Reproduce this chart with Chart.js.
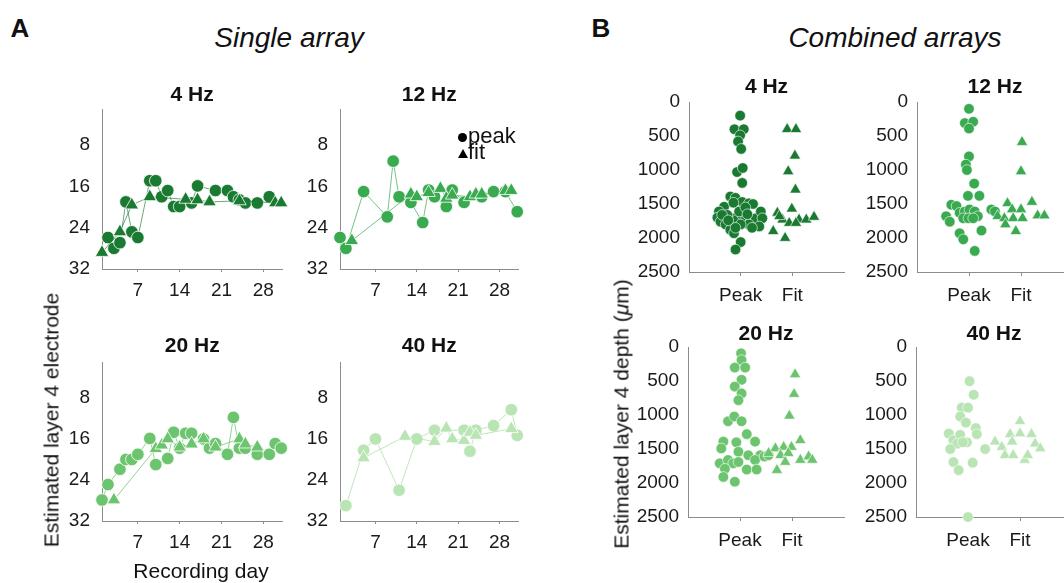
<!DOCTYPE html>
<html>
<head>
<meta charset="utf-8">
<script src="https://cdn.jsdelivr.net/npm/chart.js@4.4.1/dist/chart.umd.min.js"></script>
<style>
  html, body { margin: 0; padding: 0; background: #fff; }
  body { width: 1064px; height: 583px; position: relative; overflow: hidden;
         font-family: 'Liberation Sans', Arial, sans-serif; color: #111; }
  .panel { position: absolute; }
  .txt { position: absolute; white-space: nowrap; line-height: 1; transform: translate(-50%, -50%); }
  .vert { transform: translate(-50%, -50%) rotate(-90deg); }
  #legend { position: absolute; left: 458px; top: 128px; font-size: 22px; line-height: 16px; }
  #legend .dot { display: inline-block; width: 9px; height: 9px; border-radius: 50%; background: #000;
                 vertical-align: middle; margin-right: 1px; }
  #legend .tri { display: inline-block; width: 0; height: 0; border-left: 5px solid transparent;
                 border-right: 5px solid transparent; border-bottom: 9px solid #000;
                 vertical-align: middle; margin-right: 0; }
</style>
</head>
<body>
<div class="txt" style="left:20px;top:28px;font-size:26px;font-weight:bold">A</div>
<div class="txt" style="left:601px;top:28px;font-size:26px;font-weight:bold">B</div>
<div class="txt" style="left:289px;top:38px;font-size:28px;font-style:italic">Single array</div>
<div class="txt" style="left:895px;top:38px;font-size:28px;font-style:italic">Combined arrays</div>
<div class="txt vert" style="left:51px;top:420px;font-size:21px">Estimated layer 4 electrode</div>
<div class="txt" style="left:201px;top:570px;font-size:21px">Recording day</div>
<div class="txt vert" style="left:621px;top:414px;font-size:21px">Estimated layer 4 depth (<i>μ</i>m)</div>
<div id="legend">
  <div><span class="dot"></span>peak</div>
  <div><span class="tri"></span>fit</div>
</div>

<script>
// ---------- labels & ticks ----------
const FREQS = ['4 Hz', '12 Hz', '20 Hz', '40 Hz'];
const METHODS = ['Peak', 'Fit'];
const DAY_TICKS = [7, 14, 21, 28];
const ELECTRODE_TICKS = [8, 16, 24, 32];
const DEPTH_TICKS = [0, 500, 1000, 1500, 2000, 2500];

// ---------- single array: layer 4 electrode by recording day ----------
const peakDays4 = [2, 3, 4, 5, 6, 7, 9, 10, 11, 12, 13, 14, 16, 17, 20, 22, 23, 24, 25, 27, 29];
const peakElec4 = [25.9, 28, 26.9, 19, 24.8, 25.9, 14.9, 14.9, 18, 16.8, 19.9, 19.9, 19.2, 15.9, 16.8, 16.8, 18, 18.6, 19.2, 19.2, 18];
const fitDays4 = [1, 4, 6, 9, 15, 17, 19, 24, 30, 31];
const fitElec4 = [28.8, 24.8, 19.6, 18, 18.5, 18.6, 19, 18.8, 19.2, 19.2];

const peakDays12 = [1, 2, 5, 9, 10, 11, 13, 15, 16, 17, 19, 20, 22, 25, 27, 29, 31];
const peakElec12 = [25.9, 28, 17, 21.9, 11.1, 18, 19.1, 23, 16.7, 18, 19.9, 16.7, 19.1, 18, 17, 17, 20.9];
const fitDays12 = [3, 13, 14, 16, 18, 19, 20, 23, 24, 25, 29, 30];
const fitElec12 = [26.5, 17.5, 18, 17.2, 16.4, 18.3, 17.7, 18, 17.5, 17.5, 16.8, 16.8];

const peakDays20 = [1, 2, 4, 5, 6, 7, 9, 10, 12, 13, 14, 15, 16, 18, 19, 20, 22, 23, 24, 25, 27, 29, 30, 31];
const peakElec20 = [27.9, 24.9, 21.9, 20, 20, 19, 15.9, 21, 19.8, 14.7, 17.8, 14.9, 14.9, 16, 17.8, 16.9, 19, 11.8, 17.8, 17.8, 19, 19, 16.9, 17.8];
const fitDays20 = [3, 10, 11, 12, 14, 16, 18, 20, 24, 25, 27];
const fitElec20 = [27.9, 17.9, 17.2, 16, 17.6, 17, 16, 17.6, 16, 17, 17.6];

const peakDays40 = [2, 5, 7, 11, 14, 17, 22, 23, 24, 27, 30, 31];
const peakElec40 = [29, 18.2, 16, 26, 16, 14.3, 14.3, 18.4, 14.3, 13.4, 10.3, 15.3];
const fitDays40 = [5, 12, 17, 19, 20, 22, 23, 24, 30];
const fitElec40 = [19.7, 15.5, 16.5, 13.9, 16, 16.3, 14.7, 15.3, 14];

// ---------- combined arrays: depth (um), x = method position with swarm offset ----------
const peakX4 = [0.99, 0.88, 1.06, 0.99, 0.95, 1.01, 0.93, 1.04, 1.03, 0.80, 0.90, 1.03, 1.16, 1.24, 0.68, 0.58, 0.55, 0.61, 0.71,
  0.80, 0.87, 0.84, 0.93, 1.03, 1.10, 1.19, 1.29, 1.39, 1.42, 1.36, 1.16, 0.97, 0.74, 1.00, 0.90, 1.00, 0.90,
  0.64, 0.76, 1.09, 1.22, 0.86, 1.13];
const peakDepth4 = [200, 400, 400, 490, 580, 690, 1030, 970, 1190, 1390, 1410, 1470, 1490, 1500, 1540, 1610, 1700, 1760, 1800,
  1880, 1930, 1710, 1730, 1660, 1730, 1760, 1710, 1610, 1710, 1830, 1800, 1610, 1660, 1800, 1850, 2060, 2170,
  1660, 1740, 1550, 1850, 1480, 1650];
const fitX4 = [1.90, 2.07, 2.05, 1.92, 2.06, 1.71, 1.99, 1.81, 2.13, 2.27, 2.42, 1.94, 2.07, 1.63, 1.86, 1.75];
const fitDepth4 = [400, 400, 790, 1020, 1290, 1630, 1570, 1730, 1730, 1730, 1690, 1780, 1780, 1900, 2000, 1680];

const peakX12 = [1.00, 0.92, 1.08, 1.00, 1.00, 0.94, 0.96, 1.10, 0.98, 1.20, 0.66, 0.76, 0.56, 0.82, 0.92, 1.01, 1.11, 1.17,
  0.89, 0.99, 1.08, 0.63, 0.82, 0.89, 1.24, 1.11, 1.43, 1.50];
const peakDepth12 = [100, 310, 290, 390, 800, 920, 1000, 1200, 1380, 1380, 1510, 1530, 1680, 1630, 1610, 1580, 1610, 1680,
  1710, 1710, 1710, 1760, 1930, 2020, 1890, 2190, 1580, 1610];
const fitX12 = [2.02, 2.00, 1.74, 2.21, 1.83, 2.00, 1.55, 1.68, 1.85, 2.03, 2.32, 2.45, 1.70, 1.90];
const fitDepth12 = [590, 1020, 1490, 1470, 1580, 1580, 1680, 1710, 1710, 1710, 1670, 1670, 1800, 1900];

const peakX20 = [1.02, 1.03, 0.90, 1.10, 1.03, 0.90, 1.03, 0.97, 0.77, 0.89, 1.03, 1.13, 1.29, 0.68, 0.93, 0.64, 0.97, 1.16,
  1.39, 0.61, 0.77, 0.87, 0.71, 0.97, 1.29, 1.13, 1.32, 0.68, 0.90, 1.47, 1.55];
const peakDepth20 = [90, 190, 300, 300, 480, 580, 680, 780, 1090, 1020, 1090, 1280, 1390, 1390, 1400, 1490, 1540, 1590,
  1590, 1710, 1660, 1710, 1790, 1690, 1660, 1800, 1800, 1910, 1980, 1610, 1590];
const fitX20 = [2.06, 2.04, 1.95, 2.16, 1.68, 1.84, 1.99, 1.55, 1.78, 1.93, 2.16, 2.32, 2.39, 1.87, 1.71];
const fitDepth20 = [400, 690, 1010, 1370, 1490, 1470, 1470, 1560, 1590, 1560, 1660, 1610, 1660, 1690, 1810];

const peakX40 = [1.03, 1.11, 0.88, 1.00, 0.85, 0.96, 1.15, 0.63, 1.17, 0.72, 0.85, 0.79, 0.98, 0.90, 0.66, 1.33, 0.72, 0.82, 1.09, 1.00];
const peakDepth40 = [500, 700, 890, 890, 1020, 1110, 1190, 1270, 1280, 1370, 1290, 1420, 1400, 1400, 1500, 1500, 1690, 1810, 1700, 2500];
const fitX40 = [2.00, 1.81, 2.00, 2.22, 1.52, 1.85, 2.29, 1.65, 2.39, 1.71, 1.87, 2.09, 2.15];
const fitDepth40 = [1090, 1280, 1270, 1280, 1390, 1390, 1420, 1470, 1490, 1590, 1590, 1660, 1590];

// ---------- style ----------
const GREENS = ['#1a7a32', '#3aaa50', '#6cc56e', '#b9e4b4'];
const LINES = ['rgba(26,122,50,0.65)', 'rgba(58,170,80,0.7)', 'rgba(108,197,110,0.75)', 'rgba(185,228,180,0.9)'];
const AXIS = '#8c8c8c';
const TICK_COLOR = '#1a1a1a';
const FONT = "'Liberation Sans', Arial, sans-serif";
const TITLE_LINE = 21 * 1.2;
const RIGHT_PAD = 8;

Chart.defaults.font.family = FONT;

// plot-area boxes (px) for each panel, plus the title centre line
const A_BOXES = [
  { left: 102, right: 283, top: 109, bottom: 269, titleY: 96 },
  { left: 340, right: 519, top: 109, bottom: 269, titleY: 96 },
  { left: 102, right: 283, top: 362, bottom: 521, titleY: 347 },
  { left: 340, right: 519, top: 362, bottom: 521, titleY: 347 }
];
const B_BOXES = [
  { left: 689, right: 844, top: 102, bottom: 272, titleY: 88 },
  { left: 917, right: 1073, top: 102, bottom: 272, titleY: 88 },
  { left: 688, right: 844, top: 347, bottom: 517, titleY: 335 },
  { left: 916, right: 1072, top: 347, bottom: 517, titleY: 335 }
];
const A_GUTTER = { left: 45, bottom: 40 };
const B_GUTTER = { left: 60, bottom: 40 };

const pts = (xs, ys) => xs.map((x, i) => ({ x, y: ys[i] }));

function makeCanvas(box, gutter) {
  const top = Math.round(box.titleY - TITLE_LINE / 2);
  const left = box.left - gutter.left;
  const w = box.right - left + RIGHT_PAD;
  const h = box.bottom - top + gutter.bottom;
  const wrap = document.createElement('div');
  wrap.className = 'panel';
  wrap.style.cssText = `left:${left}px;top:${top}px;width:${w}px;height:${h}px`;
  const c = document.createElement('canvas');
  c.width = w; c.height = h;
  wrap.appendChild(c);
  document.body.insertBefore(wrap, document.body.firstChild);
  return { canvas: c, titlePad: Math.max(0, box.top - top - TITLE_LINE) };
}

function baseOptions(title, titlePad) {
  return {
    responsive: false,
    animation: false,
    events: [],
    layout: { padding: { left: 0, right: RIGHT_PAD, top: 0, bottom: 0 } },
    plugins: {
      legend: { display: false },
      tooltip: { enabled: false },
      title: {
        display: true, text: title, color: '#111', fullSize: false,
        font: { size: 21, weight: 'bold', lineHeight: 1.2 },
        padding: { top: 0, bottom: titlePad }
      }
    }
  };
}

function fixedTicks(values) {
  return scale => { scale.ticks = values.map(v => ({ value: v })); };
}

// ---------- A: electrode vs recording day ----------
const peakDays = [peakDays4, peakDays12, peakDays20, peakDays40];
const peakElec = [peakElec4, peakElec12, peakElec20, peakElec40];
const fitDays = [fitDays4, fitDays12, fitDays20, fitDays40];
const fitElec = [fitElec4, fitElec12, fitElec20, fitElec40];

FREQS.forEach((freq, i) => {
  const { canvas, titlePad } = makeCanvas(A_BOXES[i], A_GUTTER);
  const opts = baseOptions(freq, titlePad);
  opts.scales = {
    x: {
      type: 'linear', min: 1, max: 31.2,
      afterBuildTicks: fixedTicks(DAY_TICKS),
      afterFit: s => { s.height = A_GUTTER.bottom; },
      grid: { display: true, drawOnChartArea: false, drawTicks: true, tickLength: 3, color: AXIS },
      border: { display: true, color: AXIS, width: 1 },
      ticks: { color: TICK_COLOR, font: { size: 19 }, padding: 7, maxRotation: 0, autoSkip: false }
    },
    y: {
      type: 'linear', reverse: true, min: 1, max: 32,
      afterBuildTicks: fixedTicks(ELECTRODE_TICKS),
      afterFit: s => { s.width = A_GUTTER.left; },
      grid: { display: false, drawTicks: false },
      border: { display: true, color: AXIS, width: 1 },
      ticks: { color: TICK_COLOR, font: { size: 19 }, padding: 12 }
    }
  };
  const common = {
    showLine: true, borderColor: LINES[i], borderWidth: 1, tension: 0, clip: false,
    pointBackgroundColor: GREENS[i], pointBorderColor: '#fff', pointBorderWidth: 0.8
  };
  new Chart(canvas, {
    type: 'line',
    data: {
      datasets: [
        { ...common, label: 'fit', data: pts(fitDays[i], fitElec[i]), pointStyle: 'triangle', pointRadius: 7.8 },
        { ...common, label: 'peak', data: pts(peakDays[i], peakElec[i]), pointStyle: 'circle', pointRadius: 6.3 }
      ]
    },
    options: opts
  });
});

// ---------- B: depth by method ----------
const peakX = [peakX4, peakX12, peakX20, peakX40];
const peakDepth = [peakDepth4, peakDepth12, peakDepth20, peakDepth40];
const fitX = [fitX4, fitX12, fitX20, fitX40];
const fitDepth = [fitDepth4, fitDepth12, fitDepth20, fitDepth40];

FREQS.forEach((freq, i) => {
  const { canvas, titlePad } = makeCanvas(B_BOXES[i], B_GUTTER);
  const opts = baseOptions(freq, titlePad);
  opts.scales = {
    x: {
      type: 'linear', min: 0, max: 3,
      afterBuildTicks: fixedTicks([1, 2]),
      afterFit: s => { s.height = B_GUTTER.bottom; },
      grid: { display: true, drawOnChartArea: false, drawTicks: true, tickLength: 4, color: AXIS },
      border: { display: true, color: AXIS, width: 1 },
      ticks: { color: TICK_COLOR, font: { size: 19 }, padding: 8, maxRotation: 0, autoSkip: false,
               callback: v => METHODS[v - 1] }
    },
    y: {
      type: 'linear', reverse: true, min: 0, max: 2500,
      afterBuildTicks: fixedTicks(DEPTH_TICKS),
      afterFit: s => { s.width = B_GUTTER.left; },
      grid: { display: false, drawTicks: false },
      border: { display: true, color: AXIS, width: 1 },
      ticks: { color: TICK_COLOR, font: { size: 19 }, padding: 9, callback: v => String(v) }
    }
  };
  const common = {
    showLine: false, clip: false,
    pointBackgroundColor: GREENS[i], pointBorderColor: '#fff', pointBorderWidth: 0.6
  };
  new Chart(canvas, {
    type: 'scatter',
    data: {
      datasets: [
        { ...common, label: 'Fit', data: pts(fitX[i], fitDepth[i]), pointStyle: 'triangle', pointRadius: 6.6 },
        { ...common, label: 'Peak', data: pts(peakX[i], peakDepth[i]), pointStyle: 'circle', pointRadius: 5.3 }
      ]
    },
    options: opts
  });
});
</script>
</body>
</html>
